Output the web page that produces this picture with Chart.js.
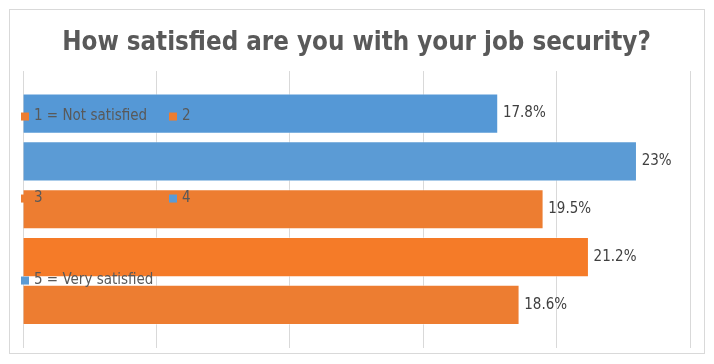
<!DOCTYPE html>
<html>
<head>
<meta charset="utf-8">
<script src="https://cdn.jsdelivr.net/npm/chart.js@4"></script>
<style>
  html, body { margin: 0; padding: 0; background: #fff; }
  canvas { display: block; }
</style>
</head>
<body>
<canvas id="chart" width="714" height="364"></canvas>
<script>
// ---- Data ----
const categories = ["1 = Not satisfied", "2", "3", "4", "5 = Very satisfied"];
const values = [18.6, 21.2, 19.5, 23, 17.8]; // percent, bottom bar first
const xTicks = [0, 5, 10, 15, 20, 25];

// ---- Style ----
const FONT = "'DejaVu Sans Condensed', 'DejaVu Sans', sans-serif";
const BLUE = "#5B9BD5";
const ORANGE = "#ED7D31";
const barColors = [ORANGE, ORANGE, ORANGE, BLUE, BLUE];

function barFill(ctx) {
  const i = ctx.dataIndex;
  const el = ctx.element;
  const chart = ctx.chart;
  // bars 2 and 5 have a soft top-down gradient in the original
  if ((i === 1 || i === 4) && el && chart.chartArea) {
    const h = 20;
    const y = el.y || 0;
    const g = chart.ctx.createLinearGradient(0, y - h, 0, y + h);
    if (i === 1) {
      g.addColorStop(0, "#F18C58");
      g.addColorStop(1, "#F57B28");
    } else {
      g.addColorStop(0, "#6DA6DD");
      g.addColorStop(1, "#5598D6");
    }
    return g;
  }
  return barColors[i];
}

// ---- Plugins ----
const frame = {
  id: "frame",
  beforeDraw(chart) {
    const c = chart.ctx;
    c.save();
    c.strokeStyle = "#d9d9d9";
    c.lineWidth = 1;
    c.strokeRect(9.5, 9.5, 695, 344);
    c.restore();
  }
};

const valueLabels = {
  id: "valueLabels",
  afterDatasetsDraw(chart) {
    const c = chart.ctx;
    const meta = chart.getDatasetMeta(0);
    c.save();
    c.font = "15px " + FONT;
    c.fillStyle = "#404040";
    c.textAlign = "left";
    c.textBaseline = "middle";
    meta.data.forEach((bar, i) => {
      c.fillText(values[i] + "%", bar.x + 5, bar.y);
    });
    c.restore();
  }
};

// legend sits over the bars, two per row, like the original export
const overlayLegend = {
  id: "overlayLegend",
  afterDatasetsDraw(chart) {
    const c = chart.ctx;
    const a = chart.chartArea;
    c.save();
    c.font = "15px " + FONT;
    c.textBaseline = "middle";
    categories.forEach((name, i) => {
      const col = i % 2;
      const row = Math.floor(i / 2);
      const x = a.left - 2 + col * 148;
      const y = a.top + 45.5 + row * 82;
      c.fillStyle = barColors[i];
      c.fillRect(x, y - 4, 8, 8);
      c.fillStyle = "#595959";
      c.fillText(name, x + 13, y);
    });
    c.restore();
  }
};

// ---- Chart ----
new Chart(document.getElementById("chart"), {
  type: "bar",
  data: {
    labels: categories,
    datasets: [{
      label: "Share",
      data: values.map((v, i) => ({ x: v, y: i })),
      backgroundColor: barFill,
      borderColor: "rgba(255,255,255,0.35)",
      borderWidth: 1,
      barThickness: 39.5
    }]
  },
  options: {
    indexAxis: "y",
    responsive: false,
    animation: false,
    layout: { padding: { left: 23, right: 24, bottom: 16.5, top: 0 } },
    plugins: {
      legend: { display: false },
      tooltip: { enabled: false },
      title: {
        display: true,
        text: "How satisfied are you with your job security?",
        color: "#595959",
        font: { family: FONT, size: 25.7, weight: "bold" },
        padding: { top: 27.6, bottom: 12.6 }
      }
    },
    scales: {
      x: {
        type: "linear",
        min: xTicks[0],
        max: xTicks[xTicks.length - 1],
        afterBuildTicks: (s) => { s.ticks = xTicks.map(v => ({ value: v })); },
        ticks: { display: false },
        grid: { color: "#d9d9d9", drawTicks: false },
        border: { display: false }
      },
      y: {
        type: "linear",
        display: false,
        offset: false,
        min: -0.89,
        max: 4.89
      }
    }
  },
  plugins: [frame, valueLabels, overlayLegend]
});
</script>
</body>
</html>
